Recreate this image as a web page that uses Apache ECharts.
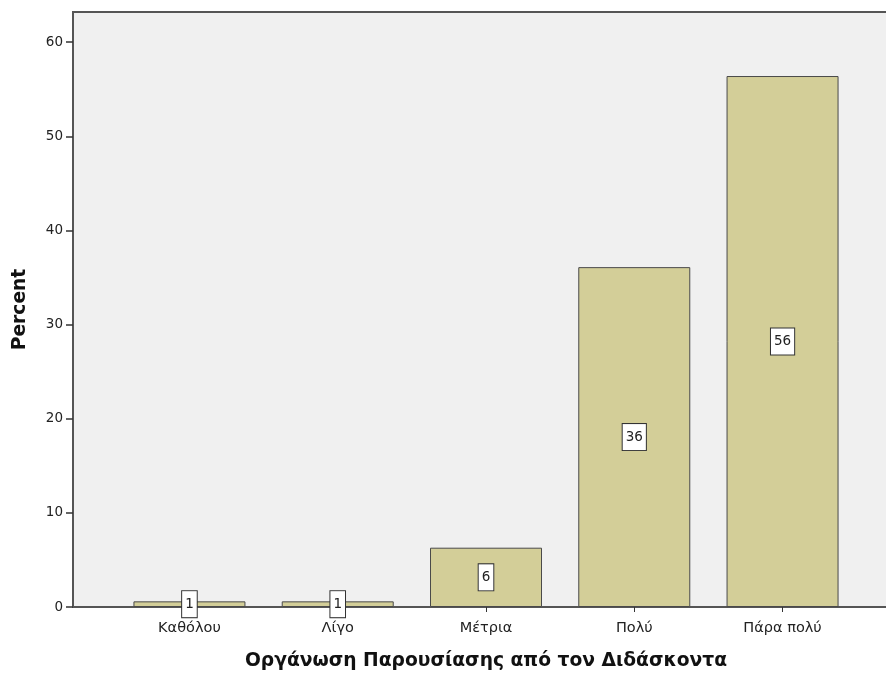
<!DOCTYPE html>
<html>
<head>
<meta charset="utf-8">
<script src="https://cdn.jsdelivr.net/npm/echarts@6/dist/echarts.min.js"></script>
<style>html,body{margin:0;padding:0;background:#fff;}#c{width:886px;height:675px;}</style>
</head>
<body>
<div id="c"></div>
<script>
var categories = ['Καθόλου', 'Λίγο', 'Μέτρια', 'Πολύ', 'Πάρα πολύ'];
var percentValues = [0.6, 0.6, 6.3, 36.1, 56.4];
var yTicks = [0, 10, 20, 30, 40, 50, 60];
var xTitle = 'Οργάνωση Παρουσίασης από τον Διδάσκοντα';
var yTitle = 'Percent';

var font = 'DejaVu Sans, Verdana, sans-serif';
var chart = echarts.init(document.getElementById('c'));
chart.setOption({
  animation: false,
  grid: [
    {left: 73, right: -3, top: 12, bottom: 68, outerBoundsMode: 'none', containLabel: false, show: true, backgroundColor: '#f0f0f0', borderColor: '#555', borderWidth: 2},
    {left: 115.3, right: 29.3, top: 12, bottom: 68, outerBoundsMode: 'none', containLabel: false}
  ],
  xAxis: [
    {gridIndex: 0, type: 'value', show: false, min: 0, max: 1},
    {gridIndex: 1, type: 'category', data: categories,
     axisLine: {show: false},
     axisTick: {show: true, alignWithLabel: true, length: 5, lineStyle: {color: '#333', width: 1}},
     axisLabel: {fontFamily: font, fontSize: 14.5, color: '#222', margin: 14},
     name: xTitle, nameLocation: 'middle', nameGap: 45,
     nameTextStyle: {fontFamily: font, fontSize: 18.7, fontWeight: 'bold', color: '#111'}}
  ],
  yAxis: [
    {gridIndex: 0, type: 'value', min: 0, max: 63.2,
     axisLine: {show: true, lineStyle: {color: '#555', width: 2}},
     axisTick: {show: true, length: 7, customValues: yTicks, lineStyle: {color: '#333', width: 1.5}},
     axisLabel: {fontFamily: font, fontSize: 13.5, color: '#222', margin: 10, customValues: yTicks},
     splitLine: {show: false},
     name: yTitle, nameLocation: 'middle', nameGap: 43, nameRotate: 90,
     nameTextStyle: {fontFamily: font, fontSize: 18.7, fontWeight: 'bold', color: '#111'}},
    {gridIndex: 1, type: 'value', min: 0, max: 63.2, show: false, splitLine: {show: false}}
  ],
  series: [{
    type: 'bar', xAxisIndex: 1, yAxisIndex: 1, data: percentValues,
    barWidth: 112,
    itemStyle: {color: '#d3ce98', borderColor: '#4a4a4a', borderWidth: 1},
    label: {show: true, position: 'inside',
      formatter: function (p) { return String(Math.round(p.value)); },
      fontFamily: font, fontSize: 13.5, color: '#222',
      backgroundColor: '#fff', borderColor: '#333', borderWidth: 1, padding: [6, 3, 6, 3]}
  }]
});
</script>
</body>
</html>
